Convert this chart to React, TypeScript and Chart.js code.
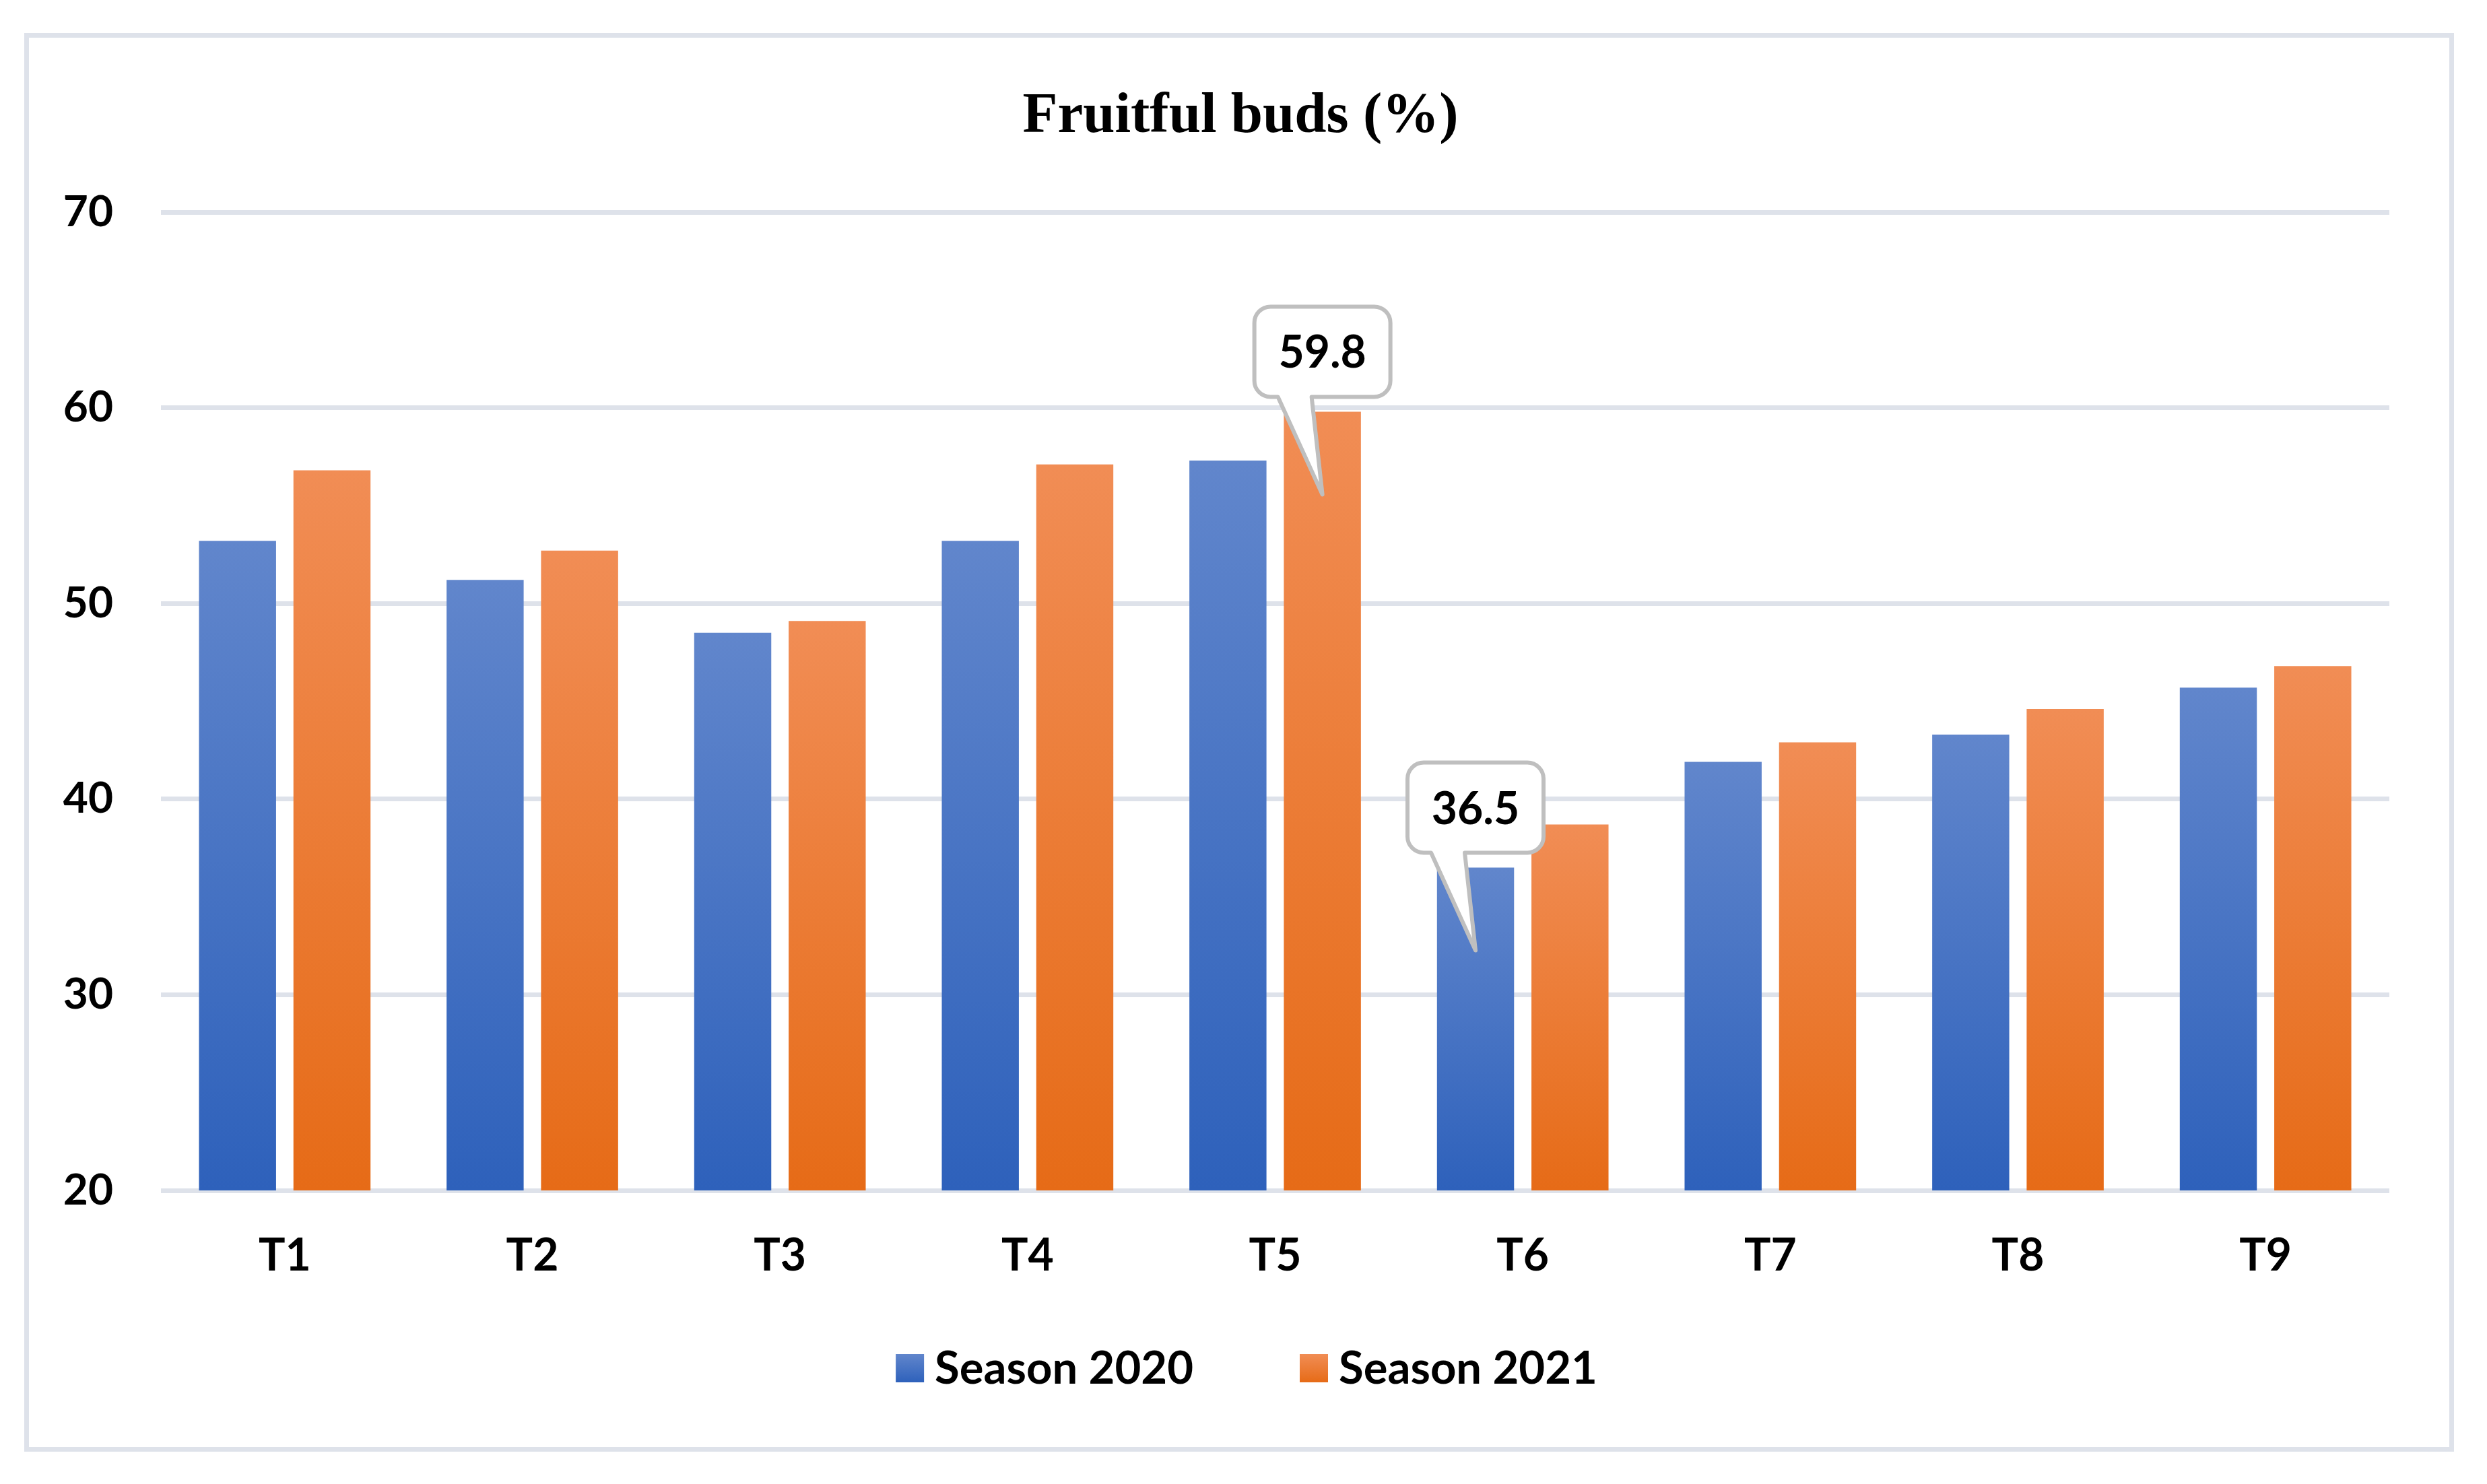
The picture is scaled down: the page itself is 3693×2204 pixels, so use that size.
import React, { useEffect, useRef } from "react";
import { Chart, registerables } from "chart.js";

Chart.register(...registerables);

// ---------------- data ----------------
const categories = ["T1", "T2", "T3", "T4", "T5", "T6", "T7", "T8", "T9"];
const season2020 = [53.2, 51.2, 48.5, 53.2, 57.3, 36.5, 41.9, 43.3, 45.7];
const season2021 = [56.8, 52.7, 49.1, 57.1, 59.8, 38.7, 42.9, 44.6, 46.8];
const seriesNames = ["Season 2020", "Season 2021"];
const yMin = 20;
const yMax = 70;
const yStep = 10;
const chartTitle = "Fruitful buds (%)";
// callouts: which dataset / which category gets a speech-bubble label
const calloutSeries = [1, 0];
const calloutIndex = [4, 5];

// ---------------- style ----------------
const W = 3693;
const H = 2204;
const FONT = "Lato, 'Open Sans', sans-serif";
const GRID = "#dee2ea";
const BLUE_TOP = "#6186cc";
const BLUE_BOT = "#2e61bb";
const ORANGE_TOP = "#f18d55";
const ORANGE_BOT = "#e66b17";
const COLORS = [
  [BLUE_TOP, BLUE_BOT],
  [ORANGE_TOP, ORANGE_BOT],
];

function barGradient(c: any, top: string, bot: string, solid: string) {
  const chart = c.chart;
  const area = chart.chartArea;
  if (!area || c.type !== "data") return solid;
  const ys = chart.scales.y;
  const y0 = ys.getPixelForValue(c.raw);
  const y1 = ys.getPixelForValue(yMin);
  if (!isFinite(y0) || !isFinite(y1) || y0 === y1) return solid;
  const g = chart.ctx.createLinearGradient(0, y0, 0, y1);
  g.addColorStop(0, top);
  g.addColorStop(1, bot);
  return g;
}

const decorPlugin = {
  id: "decor",
  beforeDraw(chart: any) {
    const ctx = chart.ctx;
    ctx.save();
    ctx.fillStyle = "#ffffff";
    ctx.fillRect(0, 0, W, H);
    ctx.restore();
  },
  afterDatasetsDraw(chart: any) {
    const ctx = chart.ctx;
    ctx.save();
    for (let k = 0; k < calloutSeries.length; k++) {
      const ds = calloutSeries[k];
      const idx = calloutIndex[k];
      const bar = chart.getDatasetMeta(ds).data[idx];
      if (!bar) continue;
      const value = chart.data.datasets[ds].data[idx];
      const cx = bar.x;
      const top = bar.y;
      const bw = 202;
      const bh = 134;
      const r = 24;
      const x0 = cx - bw / 2;
      const x1 = cx + bw / 2;
      const y1 = top - 22;
      const y0 = y1 - bh;
      const tipY = top + 123;
      ctx.beginPath();
      ctx.moveTo(x0 + r, y0);
      ctx.lineTo(x1 - r, y0);
      ctx.arcTo(x1, y0, x1, y0 + r, r);
      ctx.lineTo(x1, y1 - r);
      ctx.arcTo(x1, y1, x1 - r, y1, r);
      ctx.lineTo(cx - 16, y1);
      ctx.lineTo(cx, tipY);
      ctx.lineTo(cx - 66, y1);
      ctx.lineTo(x0 + r, y1);
      ctx.arcTo(x0, y1, x0, y1 - r, r);
      ctx.lineTo(x0, y0 + r);
      ctx.arcTo(x0, y0, x0 + r, y0, r);
      ctx.closePath();
      ctx.fillStyle = "#ffffff";
      ctx.fill();
      ctx.lineWidth = 6;
      ctx.lineJoin = "round";
      ctx.strokeStyle = "#bfbfbf";
      ctx.stroke();
      ctx.fillStyle = "#000000";
      ctx.font = `bold 66px ${FONT}`;
      ctx.textAlign = "center";
      ctx.textBaseline = "alphabetic";
      ctx.fillText(Number(value).toFixed(1), cx, y0 + bh / 2 + 24);
    }
    ctx.restore();
  },
  afterDraw(chart: any) {
    const ctx = chart.ctx;
    ctx.save();
    // outer border
    ctx.strokeStyle = GRID;
    ctx.lineWidth = 7;
    ctx.strokeRect(39.5, 52.5, 3601, 2100);

    // title
    ctx.fillStyle = "#000000";
    ctx.font = "bold 85px 'Liberation Serif', 'Times New Roman', serif";
    ctx.textAlign = "center";
    ctx.textBaseline = "alphabetic";
    ctx.fillText(chartTitle, 1842, 196);

    // legend
    ctx.font = `bold 67px ${FONT}`;
    ctx.textAlign = "left";
    const sq = 42;
    const gapText = 16;
    const gapItem = 158;
    const widths = seriesNames.map((n) => ctx.measureText(n).width);
    const total =
      widths.reduce((a, b) => a + b, 0) + seriesNames.length * (sq + gapText) + gapItem * (seriesNames.length - 1);
    let x = 1851 - total / 2;
    const cy = 2032;
    seriesNames.forEach((n, i) => {
      const g = ctx.createLinearGradient(0, cy - sq / 2, 0, cy + sq / 2);
      g.addColorStop(0, COLORS[i][0]);
      g.addColorStop(1, COLORS[i][1]);
      ctx.fillStyle = g;
      ctx.fillRect(x, cy - sq / 2, sq, sq);
      x += sq + gapText;
      ctx.fillStyle = "#000000";
      ctx.fillText(n, x, 2055);
      x += widths[i] + gapItem;
    });
    ctx.restore();
  },
};

export default function App() {
  const ref = useRef<HTMLCanvasElement | null>(null);

  useEffect(() => {
    document.body.style.margin = "0";
    document.body.style.overflow = "hidden";
    const canvas = ref.current;
    if (!canvas) return;
    const chart = new Chart(canvas, {
      type: "bar",
      data: {
        labels: categories,
        datasets: [
          {
            label: seriesNames[0],
            data: season2020,
            backgroundColor: (c: any) => barGradient(c, BLUE_TOP, BLUE_BOT, "#4472c4"),
            borderWidth: 0,
            categoryPercentage: 0.763,
            barPercentage: 0.816,
          },
          {
            label: seriesNames[1],
            data: season2021,
            backgroundColor: (c: any) => barGradient(c, ORANGE_TOP, ORANGE_BOT, "#ed7d31"),
            borderWidth: 0,
            categoryPercentage: 0.763,
            barPercentage: 0.816,
          },
        ],
      },
      options: {
        responsive: false,
        maintainAspectRatio: false,
        animation: false,
        devicePixelRatio: 1,
        layout: { padding: { top: 315, right: 145, bottom: 0, left: 0 } },
        plugins: {
          legend: { display: false },
          title: { display: false },
          tooltip: { enabled: false },
        },
        scales: {
          x: {
            grid: { display: false },
            border: { display: false },
            ticks: {
              color: "#000000",
              font: { family: FONT, size: 66, weight: "bold" },
              padding: 50,
            },
            afterFit: (s: any) => {
              s.height = 436;
            },
          },
          y: {
            min: yMin,
            max: yMax,
            ticks: {
              stepSize: yStep,
              color: "#000000",
              font: { family: FONT, size: 64, weight: "bold" },
              padding: 71,
            },
            grid: { color: GRID, lineWidth: 7, drawTicks: false },
            border: { display: false },
            afterFit: (s: any) => {
              s.width = 239;
            },
          },
        },
      },
      plugins: [decorPlugin],
    } as any);
    return () => chart.destroy();
  }, []);

  return (
    <div style={{ width: W, height: H, position: "relative" }}>
      <canvas ref={ref} width={W} height={H} style={{ display: "block", width: W, height: H }} />
    </div>
  );
}
